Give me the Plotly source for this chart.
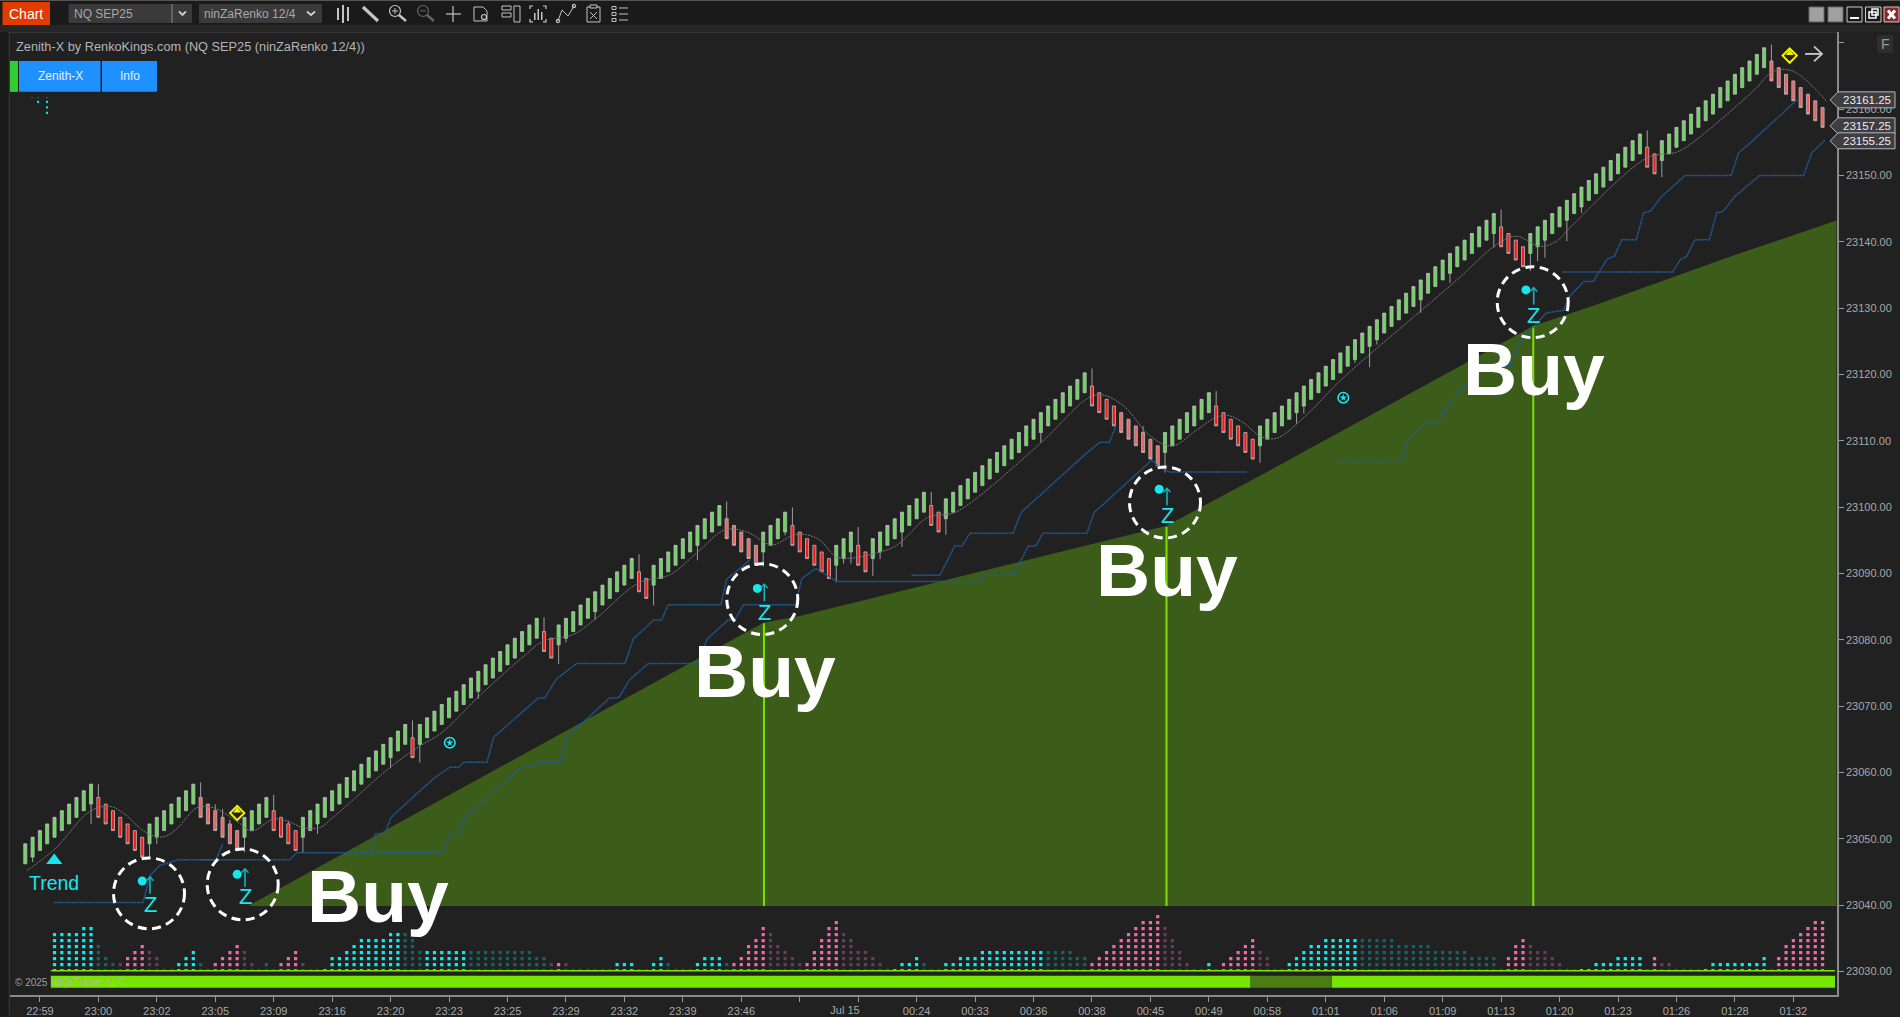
import plotly.graph_objects as go

W, H = 1900, 1017
PAPER_H = 1014.5
BG = "#212121"
price_base = 23000

# Renko closes (offset from price_base), one per bar
closes = [
 49.25,50.25,51.25,52.25,53.25,54.25,55.25,56.25,57.25,58.25,
 53.25,52.25,51.25,50.25,49.25,48.25,47.25,
 52.25,53.25,54.25,55.25,56.25,57.25,58.25,
 53.25,52.25,51.25,50.25,49.25,48.25,
 53.25,54.25,55.25,56.25,
 51.25,50.25,49.25,48.25,
 53.25,54.25,55.25,56.25,57.25,58.25,59.25,60.25,61.25,62.25,63.25,64.25,65.25,66.25,67.25,
 62.25,67.25,
 68.25,69.25,70.25,71.25,72.25,73.25,74.25,75.25,76.25,77.25,78.25,79.25,80.25,81.25,82.25,83.25,
 78.25,77.25,
 82.25,83.25,84.25,85.25,86.25,87.25,88.25,89.25,90.25,91.25,92.25,
 87.25,86.25,
 91.25,92.25,93.25,94.25,95.25,96.25,97.25,98.25,99.25,100.25,
 95.25,94.25,93.25,92.25,91.25,
 96.25,97.25,98.25,99.25,
 94.25,93.25,92.25,91.25,90.25,89.25,
 94.25,95.25,96.25,
 91.25,90.25,
 95.25,96.25,97.25,98.25,99.25,100.25,101.25,102.25,
 97.25,96.25,
 101.25,102.25,103.25,104.25,105.25,106.25,107.25,108.25,109.25,110.25,111.25,112.25,113.25,114.25,115.25,116.25,117.25,118.25,119.25,120.25,
 115.25,114.25,113.25,112.25,111.25,110.25,109.25,108.25,107.25,106.25,
 111.25,112.25,113.25,114.25,115.25,116.25,117.25,
 112.25,111.25,110.25,109.25,108.25,107.25,
 112.25,113.25,114.25,115.25,116.25,117.25,118.25,119.25,120.25,121.25,122.25,123.25,124.25,125.25,126.25,127.25,128.25,129.25,130.25,131.25,132.25,133.25,134.25,135.25,136.25,137.25,138.25,139.25,140.25,141.25,142.25,143.25,144.25,
 139.25,138.25,137.25,136.25,
 141.25,142.25,143.25,144.25,145.25,146.25,147.25,148.25,149.25,150.25,151.25,152.25,153.25,154.25,155.25,156.25,
 151.25,150.25,
 155.25,156.25,157.25,158.25,159.25,160.25,161.25,162.25,163.25,164.25,165.25,166.25,167.25,168.25,169.25,
 164.25,163.25,162.25,161.25,160.25,159.25,158.25,157.25,
]
brick = 3.0
# wick extremes read per bar
wick_low = {1:46.5,9:52.25,17:47.25,18:49.25,30:48,38:47.9,40:50.75,50:60.65,54:61.5,62:71.1,73:76.35,74:79.6,
 78:83.05,86:85.2,92:92,101:91.05,104:95.75,111:88.65,112:91.5,113:91.5,116:89.65,117:92.15,120:94,126:95.85,
 139:109.7,156:105.2,169:106.7,174:112.6,175:114.1,182:121.75,184:121.1,185:124.5,191:129.3,195:133.8,201:139.1,
 206:135.6,207:137.1,208:137.6,211:140.1,213:144.35,224:149.75}
wick_high = {10:58.25,24:58.5,26:55.2,27:54.5,28:52.9,34:56.65,36:52.75,53:67.85,71:83.4,84:92.9,96:100.85,105:99.97,
 114:97,124:102.3,146:120.9,153:112.2,163:117.5,202:144.85,222:156.8,239:169.7}
pale_red_ranges = [(24,29),(96,100),(150,155),(239,246)]

# Gray moving average, knots
ma_x = [0.2,4.07,8.9,11.6,13.4,16.6,18.9,20.7,23.5,25.7,28.9,31,34,35.8,38,40.3,42.4,49.9,54,57,62.1,68.2,70.9,75,78.2,83.9,88.2,92.1,95.8,98.7,102.2,105.1,106.9,108.8,111,113.3,117,119.3,123.6,127,129.8,139.1,145.7,147.5,150.3,153.9,156.9,160.3,162.9,164.5,166.7,169.2,171.3,174.5,180.4,189.1,196,201.4,204.1,207.3,209.6,211.4,222,226,227.9,236.5,239.3,242,246.6]
ma_y = [45.2,48.5,54.2,54.9,53.9,50.9,50.3,51.5,54.7,54.7,52.7,51.2,53,52.7,51.7,51.7,53.5,60.75,64,66,71.5,77.5,79.8,80.8,83.3,88.55,89.8,93.3,96.6,96.3,94.3,95.8,95.85,95,92.5,92.35,93.25,94.25,98.5,99.1,101,109.8,116.6,116.9,115.3,110.8,109.2,111.6,113.5,113.85,112.75,110.6,110.4,113,119.5,127.8,134.3,139.6,140.85,139.3,140.1,142.1,152.65,153.5,154.7,162.7,165.7,165.7,161.1]

# Blue stair-step lines
s1_x = [3.9,16.1,17.1,18.4,20.9,26.1,27]
s1_y = [40.4,40.4,44.5,46,46.85,46.85,49.15]
u1_x = [23.9,36.2,37.1,47.2,47.9,49.2,50.1,55.9,58.1,59.3,60,63.2,64.1,70.2,71.1,72.7,75.5,82.1,83.2,86,87.1,88,95.2,96,99.2]
u1_y = [46.85,46.85,47.9,47.9,50.77,50.77,53.3,59.1,60.8,60.8,61.55,61.55,65.3,71.25,71.25,74.1,76.45,76.45,80.1,83,83,85.3,85.3,89.15,92.05]
l1_x = [47.2,57.2,58.1,59.1,60.2,66.1,67.9,69.1,70.1,73.2,74.1,80,81.2,82.8,85.3,92.1,93.3,96.2,97.1,98.3,105.4,106.3,108.2,111.1,130.4,131.1,135.2,137.3,138.3,139.3,145.3,146.3,154.2,155.2,156.6,167.2]
l1_y = [47.9,47.9,50.77,50.77,53.3,59.15,60.8,60.8,61.55,61.55,65.3,71.25,71.25,74.1,76.45,76.45,80.1,83,83,85.3,85.3,89.25,90.75,88.8,88.8,89.75,89.75,94.15,94.15,96.05,96.05,99.2,107.1,106.1,105.3,105.3]
u2_x = [121.3,125.2,127.2,128.2,129.3,135.2,136.3,145.3,147.1,148.4,149.3]
u2_y = [89.75,89.75,94.15,94.15,96.05,96.05,99.2,108.2,109.8,109.8,112.3]
u3_x = [179.3,188.4,189.3,191.4,193.4,195.2,199.3,203.2,204.6,208.2,210.5,211.4,213.3,214.6,216.5,217.5,218.5,220.5,221.5,222.4,224,227.2,233.5,234.5,236.1,242.5]
u3_y = [106.9,106.9,110.3,112.45,112.9,116.25,120.75,121.25,125,129.3,129.65,131.8,134,134,137.4,137.8,140.3,140.3,144.35,144.6,146.85,150,150,153.4,154.9,161.4]
u4_x = [210.4,225.5,226.5,227.4,228.5,230.5,231.5,232.4,234,237.4,243.4,244.5,246.3]
u4_y = [135.45,135.45,137.3,137.8,140.3,140.3,144.35,144.6,146.85,150,150,153.4,155.3]

# Green area
area_x = [30.5,62.2,101.1,106,156.2,168.1,206.4,215.5,232.9,247.9]
area_y = [39.9,59.15,82.6,83.6,97.2,104.2,127.3,130.7,137.6,143.2]
area_floor = 39.9
# Buy signals
buy_idx = [101.1,156.2,206.4]
buy_top = [82.5,97.0,127.3]

y_ticks = [23030,23040,23050,23060,23070,23080,23090,23100,23110,23120,23130,23140,23150,23160,23170]
x_tick_labels = ["22:59","23:00","23:02","23:05","23:09","23:16","23:20","23:23","23:25","23:29","23:32","23:39","23:46","","","00:24","00:33","00:36","00:38","00:45","00:49","00:58","01:01","01:06","01:09","01:13","01:20","01:23","01:26","01:28","01:32"]
date_label_pos = [112.2]
date_label = ["Jul 15"]
price_tags = [("23161.25",100),("23157.25",126),("23155.25",141)]

# bottom dots: one token per bar, kind + rows (C bright cyan, c dim cyan, P bright pink, p dim pink, . none)
hist_tokens = """.0 .0 .0 .0 C6 C6 C6 C6 C7 C7
c4 c2 c1 p1 P2 P3 P4 p3 p2 p0
c0 C1 C2 C3 c1 c0 P1 P2 P3 P4
p3 p1 p0 c1 p0 P1 P2 P3 p1 p0
p0 C0 C2 C2 C3 C4 C5 C5 C5 C5
C6 C6 c6 c5 c3 C3 C3 C3 C3 C3
C3 c3 c3 c3 c3 c3 c3 c3 c3 c3
c2 c2 p1 P1 p1 p0 p0 p0 c0 c0
c0 C1 C1 C1 c0 c0 C1 C2 c1 c0
c0 c0 C1 C2 C2 C2 c1 P1 P2 P4
P5 P7 p6 p4 p3 p2 p1 P1 P3 P5
P7 P8 p6 p5 p3 p3 p2 p1 p0 C0
C1 C1 C2 c1 c0 c0 C1 C1 C2 C2
C2 C3 C3 C3 C3 C3 C3 C3 C3 C3
c3 c3 c3 c3 c2 c2 P1 P2 P3 P4
P5 P6 P7 P8 P8 P9 p7 p5 p3 p1
p0 c0 C1 c0 P1 P2 P3 P4 P5 p3
p2 p0 p0 C1 C2 C3 C4 C4 C5 C5
C5 C5 C5 c5 c5 c5 c5 c5 c4 c4
c4 c4 c4 c3 c3 c3 c3 c3 c2 c2
c2 c2 p0 P2 P4 P5 p4 p3 p3 p2
p1 p0 p0 C0 C0 C1 C1 C1 C2 C2
C2 C2 c0 P2 p1 p1 p0 p0 p0 p0
C0 C1 C1 C1 C1 C1 C1 C1 C2 c0
P2 P4 P5 P6 P7 P8 P8""".split()

# time-strip colour runs (bar index)
strip_bright = [(3.5,167.7),(178.8,247.7)]
strip_dim = [(167.7,178.8)]

tv_x = [2+8*i for i in range(len(x_tick_labels))]
X0, X1, Y0, Y1 = 10, 1837, 996.7, 32
PITCH = 7.306
x_range = [(X0-25.3)/PITCH, (X1-25.3)/PITCH]
y_scale = 6.644
y_range = [23030+(973-Y0)/y_scale, 23030+(973-Y1)/y_scale]

def PX(x): return x/W
def PY(y): return 1-y/PAPER_H

shapes, annos = [], []
def rect(x0,y0,x1,y1,fill=None,line=None,lw=1,layer="above"):
    shapes.append(dict(type="rect",xref="paper",yref="paper",x0=PX(x0),x1=PX(x1),y0=PY(y0),y1=PY(y1),
        fillcolor=fill or "rgba(0,0,0,0)",line=dict(color=line or "rgba(0,0,0,0)",width=lw if line else 0),layer=layer))
def poly(pts,color,lw=1.2,fill=None,close=False,dash=None):
    d="M "+" L ".join(f"{PX(a):.5f},{PY(b):.5f}" for a,b in pts)+(" Z" if close else "")
    shapes.append(dict(type="path",xref="paper",yref="paper",path=d,fillcolor=fill or "rgba(0,0,0,0)",
        line=dict(color=color,width=lw,dash=dash or "solid"),layer="above"))
def circ(cx,cy,r,color,lw=1.2,fill=None,dash=None):
    shapes.append(dict(type="circle",xref="paper",yref="paper",x0=PX(cx-r),x1=PX(cx+r),y0=PY(cy+r),y1=PY(cy-r),
        fillcolor=fill or "rgba(0,0,0,0)",line=dict(color=color,width=lw,dash=dash or "solid"),layer="above"))
def text(x,y,s,size,color,anchor="left",bold=False,font="Liberation Sans"):
    annos.append(dict(xref="paper",yref="paper",x=PX(x),y=PY(y),text=f"<b>{s}</b>" if bold else s,showarrow=False,
        xanchor=anchor,yanchor="middle",font=dict(size=size,color=color,family=font),borderpad=0,borderwidth=0))

# ---- chrome ----
rect(0,0,W,25,"#1a1a1a")
rect(0,25,W,32,"#262626")
rect(0,32,8,H,"#1a1a1a")
rect(0,0,W,1,"#555555")
rect(2.5,2,50,25,"#e03c00")
text(26,14,"Chart",14,"#ffffff","center")
rect(68.5,4,192,23,"#3a3a3a")
rect(171.5,4,172.5,23,"#8a8a8a")
text(74,14,"NQ SEP25",12,"#a8a8a8")
poly([(179,11.5),(182.5,15),(186,11.5)],"#d0d0d0",1.8)
rect(199,4,322,23,"#3a3a3a")
text(204,14,"ninZaRenko 12/4",12,"#a8a8a8")
poly([(307,11.5),(311,15),(315,11.5)],"#d0d0d0",1.8)
ic="#c4c4c4"
for cx,h in [(338,6),(343,9),(348,7)]:
    rect(cx-1,14-h,cx+1,14+h,ic)
poly([(363,7),(378,21)],ic,3.2)
circ(395,11,5.5,ic); poly([(399,15),(406,21)],ic,2.4); poly([(392,11),(398,11)],ic,1); poly([(395,8),(395,14)],ic,1)
circ(423,11,5.5,"#666666"); poly([(427,15),(434,21)],"#666666",2.4); poly([(420,11),(426,11)],"#666666",1)
poly([(446,14),(461,14)],ic,1.2); poly([(453,6),(453,22)],ic,1.2)
poly([(474,7),(483,7),(487,11),(487,21),(474,21)],ic,1,close=True); circ(484,17,2.5,ic)
rect(502,6,511,10,None,ic); rect(502,13,511,17,None,ic); rect(514,6,520,22,None,ic)
poly([(530,9),(530,6),(533,6)],ic); poly([(543,6),(546,6),(546,9)],ic); poly([(530,19),(530,22),(533,22)],ic); poly([(543,22),(546,22),(546,19)],ic)
rect(534,13,535.5,20,ic); rect(537.5,9,539,20,ic); rect(541,12,542.5,20,ic)
poly([(558,21),(562,10),(568,16),(574,6)],ic,1); circ(558,21,1.6,ic); circ(574,6,1.6,ic)
rect(587,7,600,22,None,ic); rect(590,5,597,8,"#1a1a1a",ic); poly([(590,12),(597,19)],ic,1); poly([(597,12),(590,19)],ic,1)
for yy in (8,14,20):
    rect(612,yy-1.5,616,yy+1.5,None,ic); rect(619,yy-.5,628,yy+.5,ic)
for x0,x1,c in [(1809,1824,"#a0a0a0"),(1828,1843,"#a0a0a0")]:
    rect(x0,7,x1,22,c,"#666666")
rect(1847,7,1862,22,"#1a1a1a","#cccccc"); rect(1850,17,1859,19,"#ffffff")
rect(1865.5,7,1881,22,"#1a1a1a","#cccccc"); rect(1869,12,1876,18,None,"#ffffff",1.5); rect(1872,9,1878,15,None,"#ffffff",1.5)
rect(1884,7,1899,22,"#8a2a2a","#cccccc"); poly([(1888,10.5),(1895,18.5)],"#ffffff",3); poly([(1895,10.5),(1888,18.5)],"#ffffff",3)
rect(8,32,X1,32.8,"#3a3a3a")
rect(9,32,9.8,H,"#3a3a3a")

text(16,46.5,"Zenith-X by RenkoKings.com (NQ SEP25 (ninZaRenko 12/4))",12.75,"#b4b4b4")
rect(10,61,18,92,"#33cc33")
rect(19,61,100.5,92,"#1e90ff"); text(60,76.5,"Zenith-X",12,"#e6f2ff","center")
rect(102,61,157,92,"#1e90ff"); text(129.5,76.5,"Info",12,"#e6f2ff","center")
for a,b in [(38,102),(47,102),(47,107.5),(47,113)]:
    rect(a-1,b-1.2,a+1,b+1.2,"#19d8e0")
rect(31,97.5,33,98.2,"#127a80"); rect(37,97.5,39,98.2,"#127a80"); rect(46,97.5,48,98.2,"#127a80")

rect(1877,35,1893,53,"#2e2e2e"); text(1885,44,"F",14,"#9a9a9a","center")
poly([(1805,54),(1822,54)],"#c8c8c8",1.8); poly([(1814,46.5),(1822,54),(1814,61.5)],"#c8c8c8",1.8)

# price tags
for lab,yy in price_tags:
    poly([(1830,yy),(1838,yy-8),(1895,yy-8),(1895,yy+8),(1838,yy+8)],"#b8b8b8",1,fill="#3d3d42",close=True)
    text(1867,yy,lab,11.5,"#eeeeee","center")

# white circles, arrows, Z glyphs
circles = [(149,894.7),(242.7,885.7),(762.3,600),(1165,503.3),(1532.7,302.7)]
for cx,cy in circles:
    circ(cx,cy,35.5,"#ffffff",3,dash="9px,5.5px")
arrows = [(150,878,895),(245,870,888),(764.3,585,602),(1167,489,506),(1533.7,288,305)]
for ax,a0,a1 in arrows:
    poly([(ax,a1),(ax,a0)],"#13b5b8",1.6); poly([(ax-3.5,a0+4),(ax,a0),(ax+3.5,a0+4)],"#13b5b8",1.4)
zs = [(150,906),(245,898.3),(764.3,613.3),(1167,516.7),(1533.7,316)]
for zx,zy in zs:
    text(zx,zy,"Z",22,"#19e6ec","center")
text(54.3,884.5,"Trend",19.5,"#19e6ec","center")
for bx,by in [(377.5,897),(765,672),(1167,571),(1534,370)]:
    text(bx,by,"Buy",75,"#ffffff","center",bold=True)

fig = go.Figure()
fig.add_trace(go.Scatter(x=area_x+[area_x[-1],area_x[0]],y=[price_base+v for v in area_y]+[price_base+area_floor]*2,
    fill="toself",fillcolor="#3b5d19",mode="none",showlegend=False,hoverinfo="skip"))
bx,by=[],[]
for i,t in zip(buy_idx,buy_top):
    bx+=[i,i,None]; by+=[price_base+area_floor,price_base+t,None]
fig.add_trace(go.Scatter(x=bx,y=by,mode="lines",line=dict(color="#7fe000",width=2),showlegend=False,hoverinfo="skip"))
for sx,sy in [(s1_x,s1_y),(u1_x,u1_y),(l1_x,l1_y),(u2_x,u2_y),(u3_x,u3_y),(u4_x,u4_y)]:
    fig.add_trace(go.Scatter(x=sx,y=[price_base+v for v in sy],mode="lines",line=dict(color="#205a94",width=1.5,dash="2px,0.6px"),showlegend=False,hoverinfo="skip"))
fig.add_trace(go.Scatter(x=ma_x,y=[price_base+v for v in ma_y],mode="lines",line=dict(color="#7a7a7a",width=1,shape="spline",dash="2px,1px"),showlegend=False,hoverinfo="skip"))

# candles
o,h,l,c=[],[],[],[]
for i,v in enumerate(closes):
    up = i==0 or v>closes[i-1]
    op = v-brick if up else v+brick
    o.append(price_base+op); c.append(price_base+v)
    h.append(price_base+wick_high.get(i,max(op,v))); l.append(price_base+wick_low.get(i,min(op,v)))
pale=lambda i:any(a<=i<=b for a,b in pale_red_ranges)
for mask,red in [((lambda i:not pale(i)),"#f81818"),(pale,"#f06060")]:
    idx=[i for i in range(len(closes)) if mask(i)]
    fig.add_trace(go.Candlestick(x=idx,open=[o[i] for i in idx],high=[h[i] for i in idx],low=[l[i] for i in idx],close=[c[i] for i in idx],
        increasing=dict(line=dict(color="#bcbcbc",width=0.8),fillcolor="#66d85a"),
        decreasing=dict(line=dict(color="#bcbcbc",width=0.8),fillcolor=red),showlegend=False,hoverinfo="skip"))

# markers
dot_x=[16,29,100.2,155.2,205.4]; dot_y=[43.65,44.65,87.75,102.7,132.75]
fig.add_trace(go.Scatter(x=dot_x,y=[price_base+v for v in dot_y],mode="markers",marker=dict(color="#19e6ec",size=9),showlegend=False,hoverinfo="skip"))
fig.add_trace(go.Scatter(x=[3.96],y=[price_base+46.75],mode="markers",marker=dict(color="#19e6ec",size=14,symbol="triangle-up"),showlegend=False,hoverinfo="skip"))
st_x=[58.1,180.4]; st_y=[64.5,116.5]
fig.add_trace(go.Scatter(x=st_x,y=[price_base+v for v in st_y],mode="markers",marker=dict(color="#19e6ec",size=10.5,symbol="circle-open",line=dict(color="#19e6ec",width=1.6)),showlegend=False,hoverinfo="skip"))
fig.add_trace(go.Scatter(x=st_x,y=[price_base+v for v in st_y],mode="markers",marker=dict(color="#19e6ec",size=5.5,symbol="star"),showlegend=False,hoverinfo="skip"))
dm_x=[29,241.5]; dm_y=[53.9,168.07]
fig.add_trace(go.Scatter(x=dm_x,y=[price_base+v for v in dm_y],mode="markers",marker=dict(color="#212121",size=11,symbol="diamond",line=dict(color="#f2f200",width=2)),showlegend=False,hoverinfo="skip"))
fig.add_trace(go.Scatter(x=dm_x,y=[price_base+v+0.35 for v in dm_y],mode="markers",marker=dict(color="#f2f200",size=7,symbol="triangle-up"),showlegend=False,hoverinfo="skip"))

# bottom dots on second y axis
palette={"C":"#00f0f5","c":"#0e6468","P":"#f864ac","p":"#6a3a58"}
for kind,col in palette.items():
    dx,dy=[],[]
    for i,tok in enumerate(hist_tokens):
        if tok[0]==kind:
            for r in range(0,int(tok[1])+1):
                dx.append(i); dy.append(r)
    fig.add_trace(go.Scatter(x=dx,y=dy,yaxis="y2",mode="markers",marker=dict(color=col,size=3.2,symbol="square"),showlegend=False,hoverinfo="skip"))

# empty trace keeps the date-label axis alive
fig.add_trace(go.Scatter(x=[date_label_pos[0]],y=[23100],xaxis="x2",yaxis="y",mode="markers",marker=dict(opacity=0,size=1),showlegend=False,hoverinfo="skip"))

# strip drawn on x axis units
for a,b in strip_bright:
    shapes.append(dict(type="rect",xref="x",yref="paper",x0=a,x1=b,y0=PY(989.3),y1=PY(977.3),fillcolor="#74e600",line=dict(width=0),layer="above"))
for a,b in strip_dim:
    shapes.append(dict(type="rect",xref="x",yref="paper",x0=a,x1=b,y0=PY(989.3),y1=PY(977.3),fillcolor="#4b7d12",line=dict(width=0),layer="above"))
shapes.append(dict(type="rect",xref="x",yref="paper",x0=3.5,x1=247.7,y0=PY(973),y1=PY(971.4),fillcolor="#74e600",line=dict(width=0),layer="above"))
text(15,983.5,"© 2025 NinjaTrader, LLC",10,"rgba(185,185,185,.85)")

fig.update_layout(width=W,height=H,margin=dict(l=0,r=0,t=0,b=0),autosize=False,paper_bgcolor=BG,plot_bgcolor="rgba(0,0,0,0)",
    boxgap=0.58,boxgroupgap=0,showlegend=False,shapes=shapes,annotations=annos,
    font=dict(family="Liberation Sans",color="#a8a8a8",size=11),
    xaxis=dict(domain=[PX(X0),PX(X1)],range=x_range,tickmode="array",tickvals=tv_x,ticktext=x_tick_labels,showgrid=False,zeroline=False,
        ticks="outside",ticklen=5,tickcolor="#9a9a9a",tickwidth=1,showline=True,linecolor="#8a8a8a",linewidth=1.5,rangeslider=dict(visible=False),
        tickfont=dict(size=11,color="#a8a8a8"),anchor="y",fixedrange=True),
    xaxis2=dict(domain=[PX(X0),PX(X1)],range=x_range,overlaying="x",side="bottom",anchor="y",tickmode="array",tickvals=date_label_pos,ticktext=date_label,
        showgrid=False,zeroline=False,ticks="outside",ticklen=5,tickcolor="rgba(0,0,0,0)",showline=False,tickfont=dict(size=11,color="#a8a8a8"),fixedrange=True),
    yaxis=dict(domain=[PY(Y0),PY(Y1)],range=y_range,side="right",tickmode="array",tickvals=y_ticks,
        ticktext=[f"{v:.2f}" if v!=23170 else "" for v in y_ticks],showgrid=False,zeroline=False,ticks="outside",ticklen=5,
        tickcolor="#9a9a9a",showline=True,linecolor="#8a8a8a",linewidth=1.5,tickfont=dict(size=11,color="#a8a8a8"),anchor="x",fixedrange=True),
    yaxis2=dict(domain=[PY(972),PY(900)],range=[0,12],visible=False,anchor="x",fixedrange=True))

fig.write_html("out.html",config=dict(displayModeBar=False),post_script="document.body.style.margin='0';document.documentElement.style.overflow='hidden';")
